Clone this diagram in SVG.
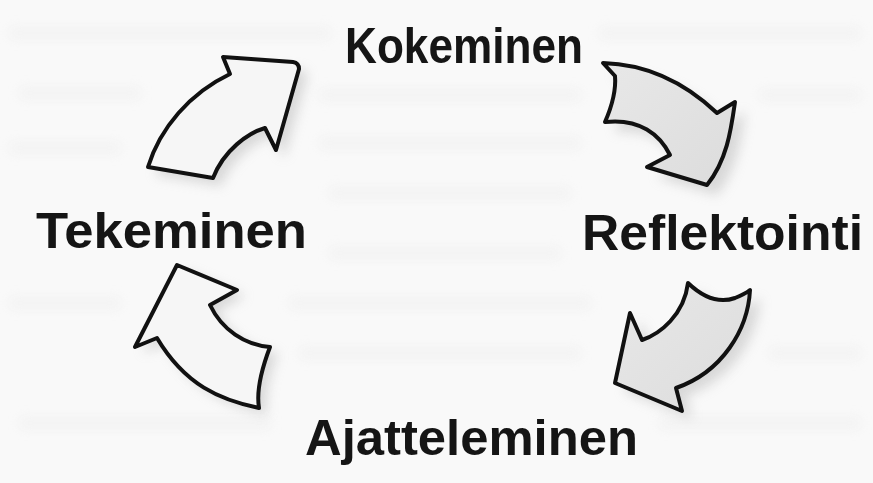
<svg xmlns="http://www.w3.org/2000/svg" width="873" height="483" viewBox="0 0 873 483">
  <defs>
    <style>
      .arrow { stroke: #111; stroke-width: 4; stroke-linejoin: round; stroke-linecap: round; }
      .light { fill: #f6f6f6; }
      .grey { fill: url(#greyFill); }
      .label { font-family: "Liberation Sans", "DejaVu Sans", sans-serif; font-weight: bold; font-size: 50px; fill: #151515; }
      .shadow { fill: #bdbdbd; opacity: 0.55; filter: url(#blur); }
      .band { fill: #ededed; filter: url(#blur2); }
    </style>
    <linearGradient id="greyFill" x1="0" y1="0" x2="1" y2="1">
      <stop offset="0" stop-color="#e8e8e8"/>
      <stop offset="1" stop-color="#dcdcdc"/>
    </linearGradient>
    <filter id="blur" x="-30%" y="-30%" width="160%" height="160%">
      <feGaussianBlur stdDeviation="6"/>
    </filter>
    <filter id="blur2" x="-10%" y="-300%" width="120%" height="700%">
      <feGaussianBlur stdDeviation="6"/>
    </filter>
  </defs>

  <rect x="0" y="0" width="873" height="483" fill="#f9f9f9"/>
  <g id="background-showthrough" opacity="0.6">
    <rect class="band" x="10" y="28" width="320" height="10"/>
    <rect class="band" x="600" y="28" width="260" height="10"/>
    <rect class="band" x="20" y="88" width="120" height="10"/>
    <rect class="band" x="320" y="90" width="260" height="10"/>
    <rect class="band" x="760" y="90" width="100" height="10"/>
    <rect class="band" x="320" y="138" width="260" height="10"/>
    <rect class="band" x="10" y="143" width="110" height="10"/>
    <rect class="band" x="330" y="188" width="240" height="10"/>
    <rect class="band" x="330" y="248" width="230" height="10"/>
    <rect class="band" x="290" y="298" width="300" height="10"/>
    <rect class="band" x="10" y="298" width="110" height="10"/>
    <rect class="band" x="300" y="348" width="280" height="10"/>
    <rect class="band" x="770" y="348" width="90" height="10"/>
    <rect class="band" x="20" y="418" width="250" height="10"/>
    <rect class="band" x="660" y="418" width="200" height="10"/>
  </g>

  <g id="connectors">
    <g id="arrow-tekeminen-kokeminen">
      <path class="shadow" transform="translate(8,8)" d="M223,57 L293,62 Q299,63 299,69 L276,150 L265,128 C248,133 224,150 213,178 L148,167 C160,128 190,93 230,74 Z"/>
      <path class="arrow light" d="M223,57 L293,62 Q299,63 299,69 L276,150 L265,128 C248,133 224,150 213,178 L148,167 C160,128 190,93 230,74 Z"/>
    </g>
    <g id="arrow-kokeminen-reflektointi">
      <path class="shadow" transform="translate(10,10)" d="M603,63 C640,64 680,78 717,113 L735,102 C731,130 727,160 707,185 L647,167 L670,155 C660,135 640,118 605,122 C612,106 616,88 615,76 Z"/>
      <path class="arrow grey" d="M603,63 C640,64 680,78 717,113 L735,102 C731,130 727,160 707,185 L647,167 L670,155 C660,135 640,118 605,122 C612,106 616,88 615,76 Z"/>
    </g>
    <g id="arrow-reflektointi-ajatteleminen">
      <path class="shadow" transform="translate(10,8)" d="M688,283 Q712,306 735,298 Q745,294 750,290 C748,330 722,372 676,388 L682,411 L615,383 L630,313 L642,340 C660,334 684,315 688,283 Z"/>
      <path class="arrow grey" d="M688,283 Q712,306 735,298 Q745,294 750,290 C748,330 722,372 676,388 L682,411 L615,383 L630,313 L642,340 C660,334 684,315 688,283 Z"/>
    </g>
    <g id="arrow-ajatteleminen-tekeminen">
      <path class="shadow" transform="translate(8,6)" d="M177,265 L237,290 L210,305 C222,330 245,345 270,347 C262,368 256,390 259,408 C220,400 185,385 157,338 L135,347 Z"/>
      <path class="arrow light" d="M177,265 L237,290 L210,305 C222,330 245,345 270,347 C262,368 256,390 259,408 C220,400 185,385 157,338 L135,347 Z"/>
    </g>
  </g>

  <g id="node-kokeminen">
    <text class="label" x="345" y="63" textLength="238" lengthAdjust="spacingAndGlyphs">Kokeminen</text>
  </g>
  <g id="node-reflektointi">
    <text class="label" x="582" y="250" textLength="281" lengthAdjust="spacingAndGlyphs">Reflektointi</text>
  </g>
  <g id="node-ajatteleminen">
    <text class="label" x="305" y="455" textLength="333" lengthAdjust="spacingAndGlyphs">Ajatteleminen</text>
  </g>
  <g id="node-tekeminen">
    <text class="label" x="36" y="248" textLength="271" lengthAdjust="spacingAndGlyphs">Tekeminen</text>
  </g>
</svg>
